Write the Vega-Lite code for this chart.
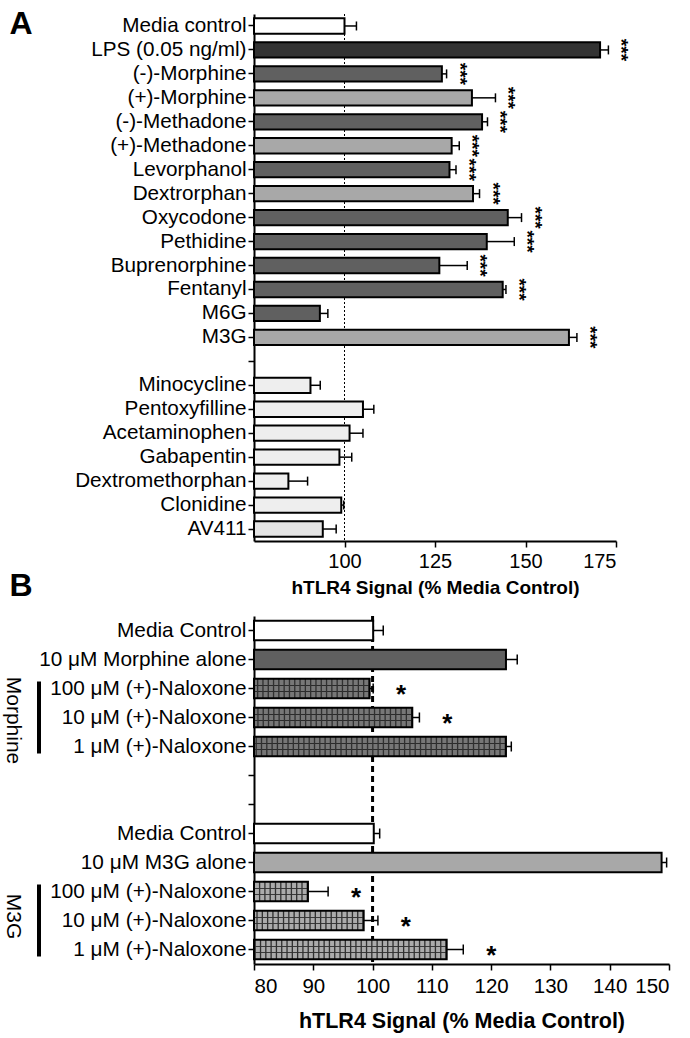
{
  "$schema": "https://vega.github.io/schema/vega-lite/v6.json",
  "background": "white",
  "padding": {"left": 3, "top": 7, "right": 5, "bottom": 5},
  "config": {
    "font": "Liberation Sans",
    "view": {"stroke": null},
    "tick": {"opacity": 1},
    "axis": {"domainColor": "black", "domainWidth": 2, "tickColor": "black", "tickWidth": 1.5, "tickSize": 6, "labelColor": "black", "titleColor": "black", "grid": false, "labelFont": "Liberation Sans", "titleFont": "Liberation Sans"}
  },
  "bounds": "flush",
  "spacing": 75,
  "vconcat": [
    {
      "width": 362,
      "height": 527,
      "data": {"values": [
        {"name": "Media control", "value": 100, "err": 103.3, "kind": "white", "sig": null},
        {"name": "LPS (0.05 ng/ml)", "value": 170.6, "err": 172.9, "kind": "black", "sig": "***"},
        {"name": "(-)-Morphine", "value": 126.9, "err": 128.2, "kind": "dark", "sig": "***"},
        {"name": "(+)-Morphine", "value": 135.2, "err": 141.7, "kind": "light", "sig": "***"},
        {"name": "(-)-Methadone", "value": 138.0, "err": 139.5, "kind": "dark", "sig": "***"},
        {"name": "(+)-Methadone", "value": 129.6, "err": 131.7, "kind": "light", "sig": "***"},
        {"name": "Levorphanol", "value": 129.0, "err": 130.8, "kind": "dark", "sig": "***"},
        {"name": "Dextrorphan", "value": 135.5, "err": 137.3, "kind": "light", "sig": "***"},
        {"name": "Oxycodone", "value": 145.1, "err": 148.9, "kind": "dark", "sig": "***"},
        {"name": "Pethidine", "value": 139.3, "err": 146.9, "kind": "dark", "sig": "***"},
        {"name": "Buprenorphine", "value": 126.2, "err": 133.9, "kind": "dark", "sig": "***"},
        {"name": "Fentanyl", "value": 143.7, "err": 144.6, "kind": "dark", "sig": "***"},
        {"name": "M6G", "value": 93.2, "err": 95.4, "kind": "dark", "sig": null},
        {"name": "M3G", "value": 162.0, "err": 164.2, "kind": "light", "sig": "***"},
        {"name": "Minocycline", "value": 90.6, "err": 93.3, "kind": "pale", "sig": null},
        {"name": "Pentoxyfilline", "value": 105.1, "err": 108.1, "kind": "pale", "sig": null},
        {"name": "Acetaminophen", "value": 101.4, "err": 105.1, "kind": "pale", "sig": null},
        {"name": "Gabapentin", "value": 98.6, "err": 102.0, "kind": "pale", "sig": null},
        {"name": "Dextromethorphan", "value": 84.5, "err": 89.8, "kind": "pale", "sig": null},
        {"name": "Clonidine", "value": 99.1, "err": 99.8, "kind": "pale", "sig": null},
        {"name": "AV411", "value": 94.0, "err": 97.7, "kind": "pale2", "sig": null}
      ]},
      "layer": [
        {
          "transform": [{"filter": "datum.name === 'Media control'"}],
          "mark": {"type": "rule", "color": "black", "strokeWidth": 1, "strokeDash": [2, 2]},
          "encoding": {"x": {"datum": 100, "type": "quantitative", "scale": {"domain": [75, 175], "zero": false}}}
        },
        {
          "mark": {"type": "rule", "color": "black", "strokeWidth": 1.5},
          "encoding": {
            "y": {"field": "name", "type": "nominal", "sort": null, "scale": {"domain": ["Media control","LPS (0.05 ng/ml)","(-)-Morphine","(+)-Morphine","(-)-Methadone","(+)-Methadone","Levorphanol","Dextrorphan","Oxycodone","Pethidine","Buprenorphine","Fentanyl","M6G","M3G","|gap","Minocycline","Pentoxyfilline","Acetaminophen","Gabapentin","Dextromethorphan","Clonidine","AV411"], "paddingInner": 0.36}},
            "x": {"field": "value", "type": "quantitative", "scale": {"domain": [75, 175], "zero": false}},
            "x2": {"field": "err"}
          }
        },
        {
          "mark": {"type": "tick", "orient": "vertical", "color": "black", "opacity": 1, "thickness": 1.5, "size": 9},
          "encoding": {
            "y": {"field": "name", "type": "nominal", "sort": null, "scale": {"domain": ["Media control","LPS (0.05 ng/ml)","(-)-Morphine","(+)-Morphine","(-)-Methadone","(+)-Methadone","Levorphanol","Dextrorphan","Oxycodone","Pethidine","Buprenorphine","Fentanyl","M6G","M3G","|gap","Minocycline","Pentoxyfilline","Acetaminophen","Gabapentin","Dextromethorphan","Clonidine","AV411"], "paddingInner": 0.36}},
            "x": {"field": "err", "type": "quantitative", "scale": {"domain": [75, 175], "zero": false}}
          }
        },
        {
          "mark": {"type": "bar", "stroke": "black", "strokeWidth": 2},
          "encoding": {
            "y": {"field": "name", "type": "nominal", "sort": null, "scale": {"domain": ["Media control","LPS (0.05 ng/ml)","(-)-Morphine","(+)-Morphine","(-)-Methadone","(+)-Methadone","Levorphanol","Dextrorphan","Oxycodone","Pethidine","Buprenorphine","Fentanyl","M6G","M3G","|gap","Minocycline","Pentoxyfilline","Acetaminophen","Gabapentin","Dextromethorphan","Clonidine","AV411"], "paddingInner": 0.36},
              "axis": {"title": null, "labelFontSize": 20.7, "labelLimit": 300, "labelPadding": 2, "labelExpr": "split(datum.label, '|')[0]"}},
            "x": {"field": "value", "type": "quantitative", "stack": null, "scale": {"domain": [75, 175], "zero": false},
              "axis": {"title": "hTLR4 Signal (% Media Control)", "values": [100, 125, 150, 175], "labelFontSize": 20, "labelPadding": 4, "titleFontSize": 19, "titleFontWeight": "bold", "titlePadding": 7}},
            "fill": {"field": "kind", "type": "nominal", "legend": null, "scale": {"domain": ["white", "black", "dark", "light", "pale", "pale2"], "range": ["#ffffff", "#333333", "#606060", "#a8a8a8", "#eeeeee", "#e3e3e3"]}}
          }
        },
        {
          "transform": [{"filter": "datum.sig != null"}],
          "mark": {"type": "text", "angle": 90, "fontSize": 19, "fontWeight": "bold", "align": "center", "baseline": "middle", "xOffset": 13, "color": "black"},
          "encoding": {
            "y": {"field": "name", "type": "nominal", "sort": null, "scale": {"domain": ["Media control","LPS (0.05 ng/ml)","(-)-Morphine","(+)-Morphine","(-)-Methadone","(+)-Methadone","Levorphanol","Dextrorphan","Oxycodone","Pethidine","Buprenorphine","Fentanyl","M6G","M3G","|gap","Minocycline","Pentoxyfilline","Acetaminophen","Gabapentin","Dextromethorphan","Clonidine","AV411"], "paddingInner": 0.36}},
            "x": {"field": "err", "type": "quantitative", "scale": {"domain": [75, 175], "zero": false}},
            "text": {"field": "sig"}
          }
        },
        {
          "transform": [{"filter": "datum.name === 'Media control'"}],
          "mark": {"type": "text", "text": "A", "fontSize": 32, "fontWeight": "bold", "align": "center", "baseline": "middle", "xOffset": -233, "dy": -2, "color": "black"},
          "encoding": {
            "y": {"field": "name", "type": "nominal", "sort": null, "scale": {"domain": ["Media control","LPS (0.05 ng/ml)","(-)-Morphine","(+)-Morphine","(-)-Methadone","(+)-Methadone","Levorphanol","Dextrorphan","Oxycodone","Pethidine","Buprenorphine","Fentanyl","M6G","M3G","|gap","Minocycline","Pentoxyfilline","Acetaminophen","Gabapentin","Dextromethorphan","Clonidine","AV411"], "paddingInner": 0.36}},
            "x": {"datum": 75, "type": "quantitative", "scale": {"domain": [75, 175], "zero": false}}
          }
        }
      ]
    },
    {
      "width": 415,
      "height": 348,
      "data": {"values": [
        {"key": "Media Control|1", "value": 100.1, "err": 101.8, "kind": "white", "sig": null},
        {"key": "10 μM Morphine alone", "value": 122.5, "err": 124.4, "kind": "dark", "sig": null},
        {"key": "100 μM (+)-Naloxone|1", "value": 99.5, "err": 100.1, "kind": "hatchM", "sig": "*"},
        {"key": "10 μM (+)-Naloxone|1", "value": 106.7, "err": 107.9, "kind": "hatchM", "sig": "*"},
        {"key": "1 μM (+)-Naloxone|1", "value": 122.5, "err": 123.4, "kind": "hatchM", "sig": null},
        {"key": "Media Control|2", "value": 100.2, "err": 101.2, "kind": "white", "sig": null},
        {"key": "10 μM M3G alone", "value": 148.75, "err": 149.6, "kind": "light", "sig": null},
        {"key": "100 μM (+)-Naloxone|2", "value": 89.1, "err": 92.5, "kind": "hatchG", "sig": "*"},
        {"key": "10 μM (+)-Naloxone|2", "value": 98.5, "err": 100.9, "kind": "hatchG", "sig": "*"},
        {"key": "1 μM (+)-Naloxone|2", "value": 112.5, "err": 115.3, "kind": "hatchG", "sig": "*"}
      ]},
      "layer": [
        {
          "transform": [{"filter": "datum.key === 'Media Control|1'"}],
          "mark": {"type": "rule", "color": "black", "strokeWidth": 3, "strokeDash": [6, 4]},
          "encoding": {"x": {"datum": 100, "type": "quantitative", "scale": {"domain": [80, 150], "zero": false}}}
        },
        {
          "mark": {"type": "rule", "color": "black", "strokeWidth": 1.5},
          "encoding": {
            "y": {"field": "key", "type": "nominal", "sort": null, "scale": {"domain": ["Media Control|1","10 μM Morphine alone","100 μM (+)-Naloxone|1","10 μM (+)-Naloxone|1","1 μM (+)-Naloxone|1","|a","|b","Media Control|2","10 μM M3G alone","100 μM (+)-Naloxone|2","10 μM (+)-Naloxone|2","1 μM (+)-Naloxone|2"], "paddingInner": 0.33}},
            "x": {"field": "value", "type": "quantitative", "scale": {"domain": [80, 150], "zero": false}},
            "x2": {"field": "err"}
          }
        },
        {
          "mark": {"type": "tick", "orient": "vertical", "color": "black", "opacity": 1, "thickness": 1.5, "size": 10},
          "encoding": {
            "y": {"field": "key", "type": "nominal", "sort": null, "scale": {"domain": ["Media Control|1","10 μM Morphine alone","100 μM (+)-Naloxone|1","10 μM (+)-Naloxone|1","1 μM (+)-Naloxone|1","|a","|b","Media Control|2","10 μM M3G alone","100 μM (+)-Naloxone|2","10 μM (+)-Naloxone|2","1 μM (+)-Naloxone|2"], "paddingInner": 0.33}},
            "x": {"field": "err", "type": "quantitative", "scale": {"domain": [80, 150], "zero": false}}
          }
        },
        {
          "transform": [{"filter": "datum.kind === 'white' || datum.kind === 'dark' || datum.kind === 'light'"}],
          "mark": {"type": "bar", "stroke": "black", "strokeWidth": 2},
          "encoding": {
            "y": {"field": "key", "type": "nominal", "sort": null, "scale": {"domain": ["Media Control|1","10 μM Morphine alone","100 μM (+)-Naloxone|1","10 μM (+)-Naloxone|1","1 μM (+)-Naloxone|1","|a","|b","Media Control|2","10 μM M3G alone","100 μM (+)-Naloxone|2","10 μM (+)-Naloxone|2","1 μM (+)-Naloxone|2"], "paddingInner": 0.33},
              "axis": {"title": null, "labelFontSize": 20.8, "labelLimit": 300, "labelPadding": 2, "labelExpr": "split(datum.label, '|')[0]"}},
            "x": {"field": "value", "type": "quantitative", "stack": null, "scale": {"domain": [80, 150], "zero": false},
              "axis": {"title": "hTLR4 Signal (% Media Control)", "values": [80, 90, 100, 110, 120, 130, 140, 150], "labelFontSize": 20.5, "labelPadding": 6, "titleFontSize": 21.5, "titleFontWeight": "bold", "titlePadding": 14}},
            "fill": {"field": "kind", "type": "nominal", "legend": null, "scale": {"domain": ["white", "dark", "light"], "range": ["#ffffff", "#5e5e5e", "#a3a3a3"]}}
          }
        },
        {
          "transform": [{"filter": "datum.kind === 'hatchM'"}],
          "mark": {"type": "bar", "strokeWidth": 0, "fill": {"gradient": "linear", "x1": 0, "y1": 0, "x2": 0, "y2": 1, "stops": [
            {"offset": 0, "color": "#777777"}, {"offset": 0.3, "color": "#777777"}, {"offset": 0.3, "color": "#2b2b2b"}, {"offset": 0.37, "color": "#2b2b2b"}, {"offset": 0.37, "color": "#777777"}, {"offset": 0.63, "color": "#777777"}, {"offset": 0.63, "color": "#2b2b2b"}, {"offset": 0.7, "color": "#2b2b2b"}, {"offset": 0.7, "color": "#777777"}, {"offset": 1, "color": "#777777"}]}},
          "encoding": {
            "y": {"field": "key", "type": "nominal", "sort": null, "scale": {"domain": ["Media Control|1","10 μM Morphine alone","100 μM (+)-Naloxone|1","10 μM (+)-Naloxone|1","1 μM (+)-Naloxone|1","|a","|b","Media Control|2","10 μM M3G alone","100 μM (+)-Naloxone|2","10 μM (+)-Naloxone|2","1 μM (+)-Naloxone|2"], "paddingInner": 0.33}},
            "x": {"field": "value", "type": "quantitative", "stack": null, "scale": {"domain": [80, 150], "zero": false}}
          }
        },
        {
          "transform": [{"filter": "datum.kind === 'hatchG'"}],
          "mark": {"type": "bar", "strokeWidth": 0, "fill": {"gradient": "linear", "x1": 0, "y1": 0, "x2": 0, "y2": 1, "stops": [
            {"offset": 0, "color": "#ababab"}, {"offset": 0.3, "color": "#ababab"}, {"offset": 0.3, "color": "#3a3a3a"}, {"offset": 0.37, "color": "#3a3a3a"}, {"offset": 0.37, "color": "#ababab"}, {"offset": 0.63, "color": "#ababab"}, {"offset": 0.63, "color": "#3a3a3a"}, {"offset": 0.7, "color": "#3a3a3a"}, {"offset": 0.7, "color": "#ababab"}, {"offset": 1, "color": "#ababab"}]}},
          "encoding": {
            "y": {"field": "key", "type": "nominal", "sort": null, "scale": {"domain": ["Media Control|1","10 μM Morphine alone","100 μM (+)-Naloxone|1","10 μM (+)-Naloxone|1","1 μM (+)-Naloxone|1","|a","|b","Media Control|2","10 μM M3G alone","100 μM (+)-Naloxone|2","10 μM (+)-Naloxone|2","1 μM (+)-Naloxone|2"], "paddingInner": 0.33}},
            "x": {"field": "value", "type": "quantitative", "stack": null, "scale": {"domain": [80, 150], "zero": false}}
          }
        },
        {
          "transform": [{"filter": "datum.kind === 'hatchM' || datum.kind === 'hatchG'"}],
          "mark": {"type": "rule", "color": "#303030", "strokeWidth": 19, "strokeDash": [1.3, 4]},
          "encoding": {
            "y": {"field": "key", "type": "nominal", "sort": null, "scale": {"domain": ["Media Control|1","10 μM Morphine alone","100 μM (+)-Naloxone|1","10 μM (+)-Naloxone|1","1 μM (+)-Naloxone|1","|a","|b","Media Control|2","10 μM M3G alone","100 μM (+)-Naloxone|2","10 μM (+)-Naloxone|2","1 μM (+)-Naloxone|2"], "paddingInner": 0.33}},
            "x": {"field": "value", "type": "quantitative", "scale": {"domain": [80, 150], "zero": false}},
            "x2": {"value": 0}
          }
        },
        {
          "transform": [{"filter": "datum.kind === 'hatchM' || datum.kind === 'hatchG'"}],
          "mark": {"type": "bar", "fill": "transparent", "stroke": "black", "strokeWidth": 2},
          "encoding": {
            "y": {"field": "key", "type": "nominal", "sort": null, "scale": {"domain": ["Media Control|1","10 μM Morphine alone","100 μM (+)-Naloxone|1","10 μM (+)-Naloxone|1","1 μM (+)-Naloxone|1","|a","|b","Media Control|2","10 μM M3G alone","100 μM (+)-Naloxone|2","10 μM (+)-Naloxone|2","1 μM (+)-Naloxone|2"], "paddingInner": 0.33}},
            "x": {"field": "value", "type": "quantitative", "stack": null, "scale": {"domain": [80, 150], "zero": false}}
          }
        },
        {
          "transform": [{"filter": "datum.sig != null"}],
          "mark": {"type": "text", "fontSize": 26, "fontWeight": "bold", "align": "center", "baseline": "middle", "xOffset": 28, "dy": 6, "color": "black"},
          "encoding": {
            "y": {"field": "key", "type": "nominal", "sort": null, "scale": {"domain": ["Media Control|1","10 μM Morphine alone","100 μM (+)-Naloxone|1","10 μM (+)-Naloxone|1","1 μM (+)-Naloxone|1","|a","|b","Media Control|2","10 μM M3G alone","100 μM (+)-Naloxone|2","10 μM (+)-Naloxone|2","1 μM (+)-Naloxone|2"], "paddingInner": 0.33}},
            "x": {"field": "err", "type": "quantitative", "scale": {"domain": [80, 150], "zero": false}},
            "text": {"field": "sig"}
          }
        },
        {
          "transform": [{"filter": "datum.key === '10 μM (+)-Naloxone|1'"}],
          "mark": {"type": "text", "text": "Morphine", "angle": 90, "fontSize": 21, "align": "center", "baseline": "middle", "xOffset": -241, "dx": 3, "color": "black"},
          "encoding": {
            "y": {"field": "key", "type": "nominal", "sort": null, "scale": {"domain": ["Media Control|1","10 μM Morphine alone","100 μM (+)-Naloxone|1","10 μM (+)-Naloxone|1","1 μM (+)-Naloxone|1","|a","|b","Media Control|2","10 μM M3G alone","100 μM (+)-Naloxone|2","10 μM (+)-Naloxone|2","1 μM (+)-Naloxone|2"], "paddingInner": 0.33}},
            "x": {"datum": 80, "type": "quantitative", "scale": {"domain": [80, 150], "zero": false}}
          }
        },
        {
          "transform": [{"filter": "datum.key === '10 μM (+)-Naloxone|2'"}],
          "mark": {"type": "text", "text": "M3G", "angle": 90, "fontSize": 21, "align": "center", "baseline": "middle", "xOffset": -241, "dx": -4, "color": "black"},
          "encoding": {
            "y": {"field": "key", "type": "nominal", "sort": null, "scale": {"domain": ["Media Control|1","10 μM Morphine alone","100 μM (+)-Naloxone|1","10 μM (+)-Naloxone|1","1 μM (+)-Naloxone|1","|a","|b","Media Control|2","10 μM M3G alone","100 μM (+)-Naloxone|2","10 μM (+)-Naloxone|2","1 μM (+)-Naloxone|2"], "paddingInner": 0.33}},
            "x": {"datum": 80, "type": "quantitative", "scale": {"domain": [80, 150], "zero": false}}
          }
        },
        {
          "transform": [{"filter": "datum.key === '10 μM (+)-Naloxone|1' || datum.key === '10 μM (+)-Naloxone|2'"}],
          "mark": {"type": "tick", "orient": "vertical", "color": "black", "opacity": 1, "thickness": 4, "size": 72, "xOffset": -215},
          "encoding": {
            "y": {"field": "key", "type": "nominal", "sort": null, "scale": {"domain": ["Media Control|1","10 μM Morphine alone","100 μM (+)-Naloxone|1","10 μM (+)-Naloxone|1","1 μM (+)-Naloxone|1","|a","|b","Media Control|2","10 μM M3G alone","100 μM (+)-Naloxone|2","10 μM (+)-Naloxone|2","1 μM (+)-Naloxone|2"], "paddingInner": 0.33}},
            "x": {"datum": 80, "type": "quantitative", "scale": {"domain": [80, 150], "zero": false}}
          }
        },
        {
          "transform": [{"filter": "datum.key === 'Media Control|1'"}],
          "mark": {"type": "text", "text": "B", "fontSize": 32, "fontWeight": "bold", "align": "center", "baseline": "middle", "xOffset": -233, "dy": -45, "color": "black"},
          "encoding": {
            "y": {"field": "key", "type": "nominal", "sort": null, "scale": {"domain": ["Media Control|1","10 μM Morphine alone","100 μM (+)-Naloxone|1","10 μM (+)-Naloxone|1","1 μM (+)-Naloxone|1","|a","|b","Media Control|2","10 μM M3G alone","100 μM (+)-Naloxone|2","10 μM (+)-Naloxone|2","1 μM (+)-Naloxone|2"], "paddingInner": 0.33}},
            "x": {"datum": 80, "type": "quantitative", "scale": {"domain": [80, 150], "zero": false}}
          }
        }
      ]
    }
  ]
}
